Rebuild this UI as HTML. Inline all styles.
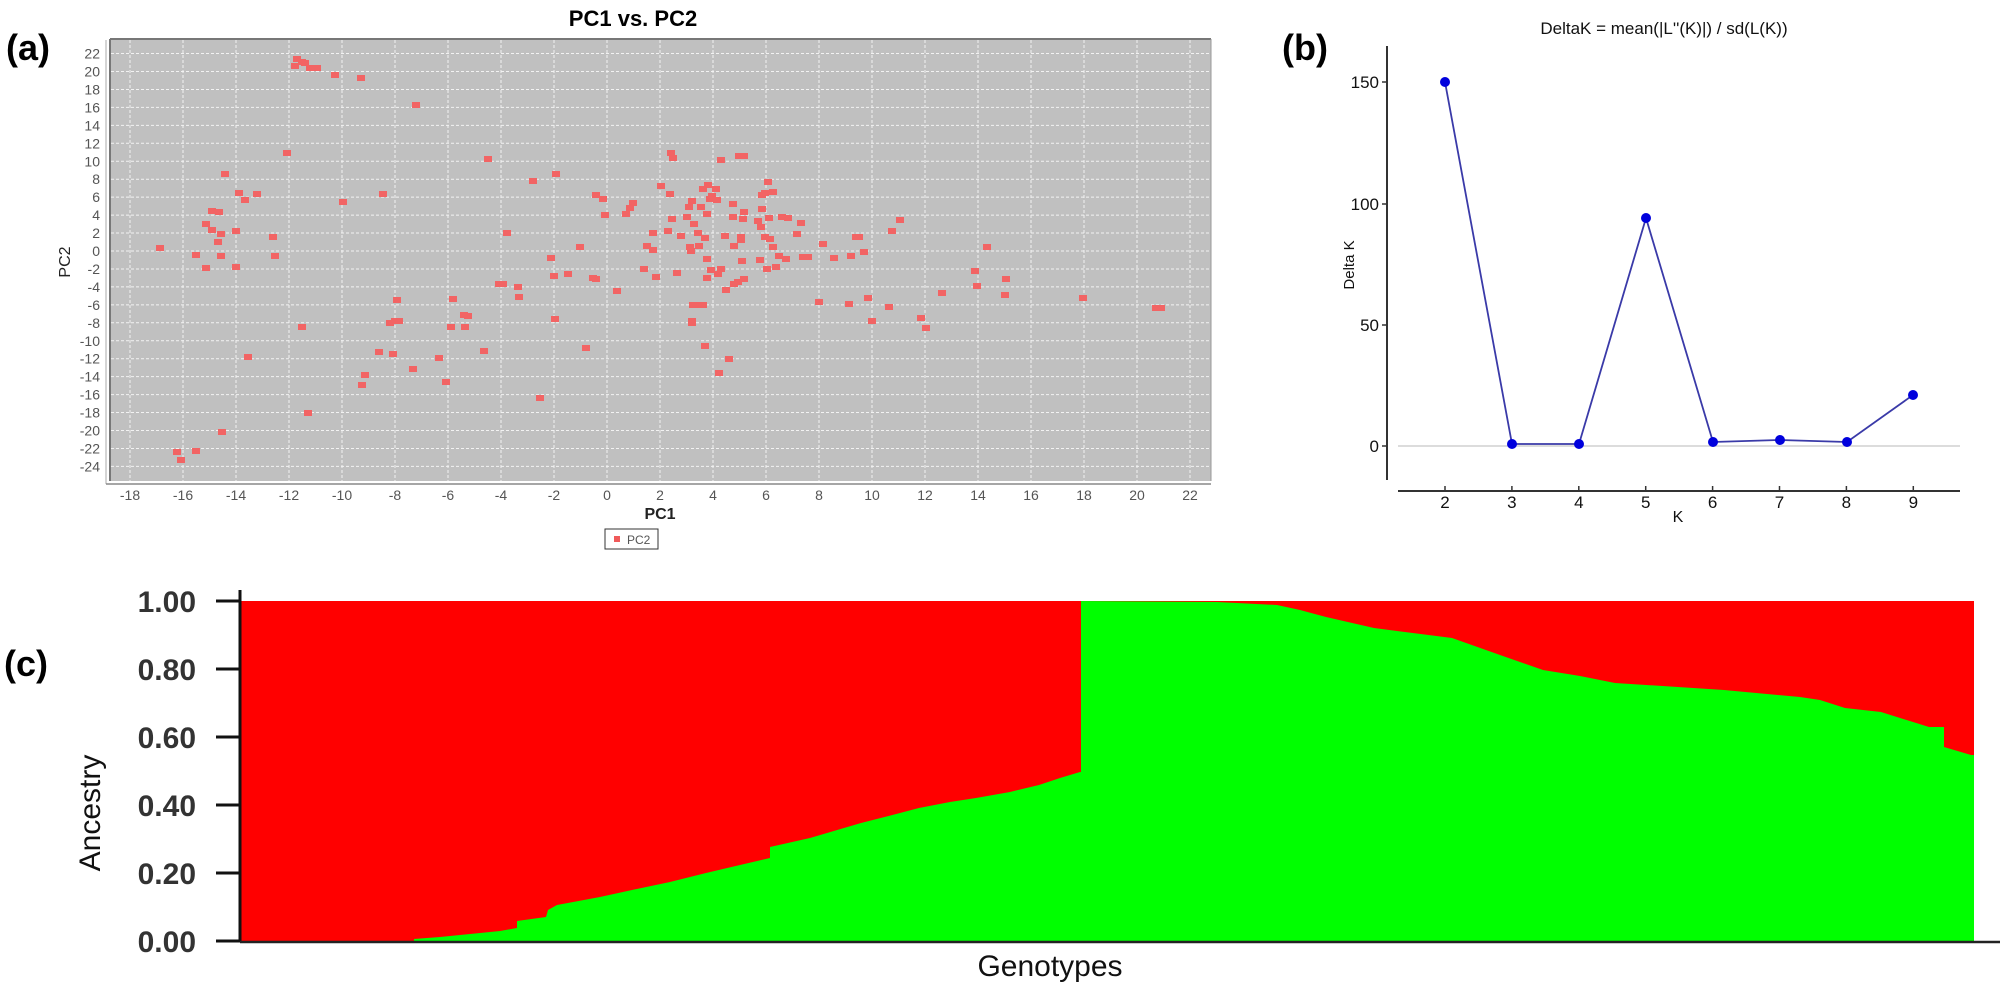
<!DOCTYPE html>
<html><head><meta charset="utf-8"><style>
html,body{margin:0;padding:0;background:#fff;}
svg{display:block;font-family:"Liberation Sans",sans-serif;}
</style></head><body>
<svg width="2006" height="986" viewBox="0 0 2006 986" xmlns="http://www.w3.org/2000/svg">
<rect width="2006" height="986" fill="#fff"/>
<!-- Panel labels -->
<text x="6" y="60" font-size="36" font-weight="bold">(a)</text>
<text x="1282" y="60" font-size="36" font-weight="bold">(b)</text>
<text x="4" y="676" font-size="36" font-weight="bold">(c)</text>

<!-- (a) -->
<text x="633" y="26" font-size="22" font-weight="bold" text-anchor="middle">PC1 vs. PC2</text>
<rect x="110" y="39" width="1101" height="442" fill="#c0c0c0"/>
<g stroke="#f2f2f2" stroke-width="1" stroke-dasharray="3,2" id="grid"></g>
<line x1="110" y1="39" x2="1211" y2="39" stroke="#777" stroke-width="2"/>
<line x1="110" y1="39" x2="110" y2="481" stroke="#777" stroke-width="2"/>
<line x1="1211" y1="39" x2="1211" y2="481" stroke="#999" stroke-width="1"/>
<line x1="106" y1="40" x2="106" y2="484" stroke="#aaa" stroke-width="1"/>
<line x1="106" y1="484" x2="1211" y2="484" stroke="#888" stroke-width="1.5"/>
<g id="ylab" font-size="14" fill="#555" text-anchor="end"></g>
<g id="xlab" font-size="14" fill="#555" text-anchor="middle"></g>
<text x="660" y="519" font-size="16" font-weight="bold" text-anchor="middle" fill="#222">PC1</text>
<text transform="translate(70,262) rotate(-90)" font-size="16" text-anchor="middle" fill="#222">PC2</text>
<rect x="605" y="529" width="53" height="20" fill="#fff" stroke="#333" stroke-width="1"/>
<rect x="614" y="536" width="6" height="6" fill="#f05a5a"/>
<text x="627" y="544" font-size="12" fill="#555">PC2</text>
<g id="pts" fill="#f26464"></g>

<!-- (b) -->
<text x="1664" y="34" font-size="17" text-anchor="middle" fill="#111">DeltaK = mean(|L''(K)|) / sd(L(K))</text>
<line x1="1387" y1="46" x2="1387" y2="480" stroke="#333" stroke-width="2"/>
<g stroke="#333" stroke-width="1.5">
<line x1="1382" y1="82" x2="1387" y2="82"/><line x1="1382" y1="204" x2="1387" y2="204"/>
<line x1="1382" y1="325" x2="1387" y2="325"/><line x1="1382" y1="446" x2="1387" y2="446"/>
</g>
<g font-size="17" text-anchor="end" fill="#111">
<text x="1379" y="88">150</text><text x="1379" y="210">100</text><text x="1379" y="331">50</text><text x="1379" y="452">0</text>
</g>
<text transform="translate(1354,265) rotate(-90)" font-size="15" text-anchor="middle" fill="#111">Delta K</text>
<line x1="1398" y1="446" x2="1960" y2="446" stroke="#d0d0d0" stroke-width="1.5"/>
<line x1="1398" y1="491" x2="1960" y2="491" stroke="#333" stroke-width="2"/>
<g id="kt" stroke="#333" stroke-width="1.5"></g>
<g id="kl" font-size="17" text-anchor="middle" fill="#111"></g>
<text x="1678" y="522" font-size="16" text-anchor="middle" fill="#111">K</text>
<polyline points="1445,82 1512,444 1579,444 1646,218 1713,442 1780,440 1847,442 1913,395" fill="none" stroke="#3a3aa8" stroke-width="1.8"/>
<g fill="#0000dd">
<circle cx="1445" cy="82" r="5"/><circle cx="1512" cy="444" r="5"/><circle cx="1579" cy="444" r="5"/>
<circle cx="1646" cy="218" r="5"/><circle cx="1713" cy="442" r="5"/><circle cx="1780" cy="440" r="5"/>
<circle cx="1847" cy="442" r="5"/><circle cx="1913" cy="395" r="5"/>
</g>

<!-- (c) -->
<rect x="240" y="601" width="1734" height="340" fill="#ff0000"/>
<polygon fill="#00ff00" points="414,941 414,939 440,937 470,934 500,931 517,928 517,921 546,917 548,910 557,905 600,897 632,890 670,882 706,873 740,865 770,858 770,847 810,838 861,823 900,813 919,808 950,802 976,798 1010,792 1039,785 1060,778 1080,772 1081,772 1081,601 1217,602 1277,605 1300,610 1326,617 1374,628 1452,638 1500,655 1543,670 1580,676 1615,683 1724,690 1800,697 1820,700 1845,708 1881,712 1929,727 1944,727 1944,747 1971,755 1974,755 1974,941"/>
<line x1="240" y1="590" x2="240" y2="942" stroke="#111" stroke-width="3"/>
<line x1="240" y1="942" x2="2000" y2="942" stroke="#222" stroke-width="2.5"/>
<g stroke="#111" stroke-width="3">
<line x1="216" y1="601" x2="240" y2="601"/><line x1="216" y1="669" x2="240" y2="669"/>
<line x1="216" y1="737" x2="240" y2="737"/><line x1="216" y1="805" x2="240" y2="805"/>
<line x1="216" y1="873" x2="240" y2="873"/><line x1="216" y1="941" x2="240" y2="941"/>
</g>
<g font-size="30" text-anchor="end" fill="#333" font-weight="bold">
<text x="196" y="612">1.00</text><text x="196" y="680">0.80</text><text x="196" y="748">0.60</text>
<text x="196" y="816">0.40</text><text x="196" y="884">0.20</text><text x="196" y="952">0.00</text>
</g>
<text transform="translate(100,813) rotate(-90)" font-size="30" text-anchor="middle" fill="#111">Ancestry</text>
<text x="1050" y="976" font-size="30" text-anchor="middle" fill="#111">Genotypes</text>
</svg>
<script>
(function(){
var NS="http://www.w3.org/2000/svg";
function el(p,t,a,txt){var e=document.createElementNS(NS,t);for(var k in a)e.setAttribute(k,a[k]);if(txt!==undefined)e.textContent=txt;document.getElementById(p).appendChild(e);}
for(var k=-18;k<=22;k+=2){var x=607+26.5*k;el("grid","line",{x1:x,y1:40,x2:x,y2:481});el("xlab","text",{x:x,y:500},String(k));}
for(var v=-24;v<=22;v+=2){var y=251-8.975*v;el("grid","line",{x1:111,y1:y,x2:1211,y2:y});el("ylab","text",{x:100,y:y+5},String(v));}
for(var K=2;K<=9;K++){var x=1445+66.9*(K-2);el("kt","line",{x1:x,y1:486,x2:x,y2:491});el("kl","text",{x:x,y:508},String(K));}
var P=[[160,248],[196,255],[206,268],[206,224],[212,211],[219,212],[212,230],[221,234],[218,242],[221,256],[225,174],[239,193],[245,200],[236,231],[236,267],[257,194],[273,237],[275,256],[287,153],[297,59],[295,66],[302,62],[305,63],[310,68],[317,68],[335,75],[361,78],[416,105],[488,159],[343,202],[383,194],[499,284],[397,300],[453,299],[302,327],[390,323],[395,321],[399,321],[451,327],[464,315],[468,316],[465,327],[379,352],[393,354],[484,351],[248,357],[439,358],[413,369],[365,375],[362,385],[446,382],[308,413],[222,432],[177,452],[196,451],[181,460],
[507,233],[533,181],[556,174],[580,247],[551,258],[554,276],[568,274],[593,278],[596,279],[503,284],[518,287],[519,297],[555,319],[617,291],[586,348],[540,398],[596,195],[603,199],[605,215],[626,214],[630,208],[633,203],[661,186],[670,194],[671,153],[673,158],[653,233],[668,231],[647,246],[653,250],[681,236],[644,269],[656,277],[677,273],[672,219],[687,217],[689,207],[692,201],[701,207],[703,189],[708,185],[716,189],[712,196],[710,199],[717,200],[707,214],[694,224],[698,233],[705,238],[699,246],[690,247],[691,251],[707,259],[711,270],[721,269],[718,274],[707,278],[721,160],[739,156],[744,156],[733,204],[744,212],[733,217],[743,219],[725,236],[741,237],[741,240],[734,246],[742,261],[726,290],[734,284],[738,282],[744,279],[693,305],[699,305],[703,305],[692,321],[692,323],[705,346],[729,359],[719,373],[768,182],[773,192],[765,193],[762,195],[762,209],[769,218],[758,221],[761,227],[782,217],[788,218],[801,223],[797,234],[765,237],[770,239],[773,247],[760,260],[779,256],[786,259],[767,269],[776,267],[803,257],[808,257],[823,244],[834,258],[851,256],[856,237],[859,237],[864,252],[892,231],[900,220],[868,298],[819,302],[849,304],[889,307],[872,321],[921,318],[926,328],[942,293],[975,271],[977,286],[987,247],[1006,279],[1005,295],[1083,298],[1156,308],[1161,308]];
P.forEach(function(p){el("pts","rect",{x:p[0]-4,y:p[1]-3,width:8,height:6});});
})();
</script>
</body></html>
